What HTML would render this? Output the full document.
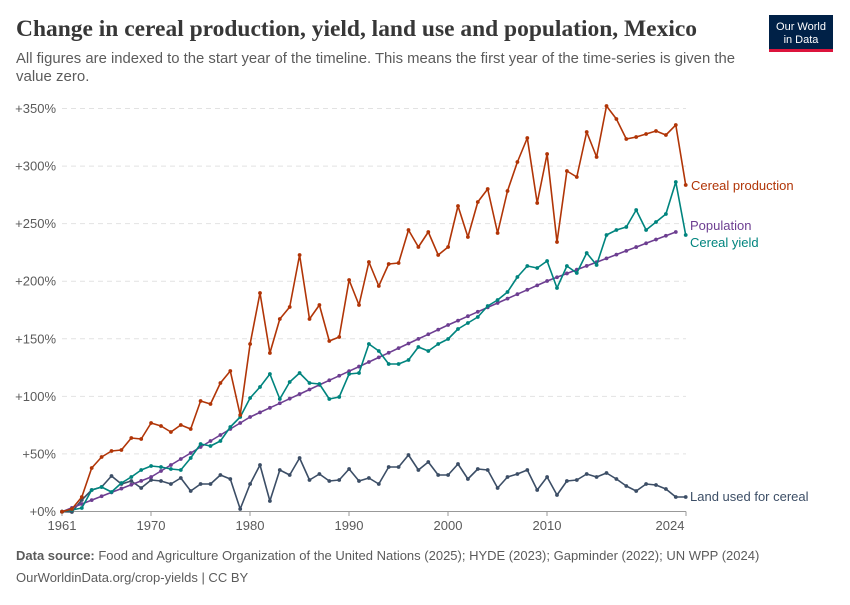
<!DOCTYPE html>
<html><head><meta charset="utf-8"><style>
body{margin:0;background:#fff;width:850px;height:600px;overflow:hidden;font-family:"Liberation Sans",sans-serif}
</style></head><body>
<svg id="s" width="850" height="600" xmlns="http://www.w3.org/2000/svg" font-family="Liberation Sans, sans-serif">
<text x="16" y="36" font-family="Liberation Serif, serif" font-weight="bold" font-size="23" fill="#373737" textLength="681" lengthAdjust="spacingAndGlyphs">Change in cereal production, yield, land use and population, Mexico</text>
<text x="16" y="63" font-size="15" fill="#5b5b5b" textLength="719" lengthAdjust="spacingAndGlyphs">All figures are indexed to the start year of the timeline. This means the first year of the time-series is given the</text>
<text x="16" y="81" font-size="15" fill="#5b5b5b">value zero.</text>
<rect x="769" y="15" width="64" height="36" fill="#002147"/>
<rect x="769" y="49" width="64" height="3" fill="#dc143c"/>
<text x="801" y="30" font-size="11" fill="#fff" text-anchor="middle">Our World</text>
<text x="801" y="43" font-size="11" fill="#fff" text-anchor="middle">in Data</text>
<g id="grid"></g>
<line x1="62" y1="511.5" x2="686" y2="511.5" stroke="#999" stroke-width="1"/>
<g stroke="#999">
<line x1="62" x2="62" y1="511.5" y2="516"/><line x1="151" x2="151" y1="511.5" y2="516"/><line x1="250" x2="250" y1="511.5" y2="516"/><line x1="349" x2="349" y1="511.5" y2="516"/><line x1="448" x2="448" y1="511.5" y2="516"/><line x1="547" x2="547" y1="511.5" y2="516"/><line x1="686" x2="686" y1="511.5" y2="516"/>
</g>
<g font-size="13" fill="#5b5b5b">
<text x="62" y="530" text-anchor="middle">1961</text>
<text x="151" y="530" text-anchor="middle">1970</text>
<text x="250" y="530" text-anchor="middle">1980</text>
<text x="349" y="530" text-anchor="middle">1990</text>
<text x="448" y="530" text-anchor="middle">2000</text>
<text x="547" y="530" text-anchor="middle">2010</text>
<text x="670" y="530" text-anchor="middle">2024</text>
</g>
<g id="series"></g>
<g font-size="13">
<text x="691" y="190" fill="#b13507">Cereal production</text>
<text x="690" y="230" fill="#6d3e91">Population</text>
<text x="690" y="247" fill="#00847e">Cereal yield</text>
<text x="690" y="501" fill="#3c4e66">Land used for cereal</text>
</g>
<text x="16" y="560" font-size="13" fill="#5b5b5b"><tspan font-weight="bold">Data source:</tspan> Food and Agriculture Organization of the United Nations (2025); HYDE (2023); Gapminder (2022); UN WPP (2024)</text>
<text x="16" y="582" font-size="13" fill="#5b5b5b">OurWorldinData.org/crop-yields | CC BY</text>
</svg>
<script>
var NS="http://www.w3.org/2000/svg";
function el(t,a,p){var e=document.createElementNS(NS,t);for(var k in a)e.setAttribute(k,a[k]);p.appendChild(e);return e;}
var g=document.getElementById('grid');
var labs=["+0%","+50%","+100%","+150%","+200%","+250%","+300%","+350%"];
for(var i=0;i<8;i++){var y=511.5-i*57.57;
 if(i>0)el('line',{x1:62,x2:686,y1:y,y2:y,stroke:'#e2e2e2','stroke-dasharray':'5,4'},g);
 var t=el('text',{x:56,y:y+4.5,'font-size':13,fill:'#5b5b5b','text-anchor':'end'},g);t.textContent=labs[i];}
function X(yr){return 62+(yr-1961)*9.9;}
var prod=[511.7,509,497,468,457,451,450,438,439,423,426,432,425,429,401,404,383,371,415,344,293,353,319,307,255,319,305,341,337,280,305,262,286,264,263,230,247,232,255,247,206,237,202,189,233,191,162,138,203,154,242,171,177,132,157,106,119,139,137,134,131,135,125,185];
var yld=[511.7,510,508,490,487,492,483,477,470,466,467,469,470,458,444,446,441,427,417,398,387,374,399,382,373,383,384,399,397,374,373,344,351,364,364,360,347,351,344,339,329,323,317,306,300,292,277,266,268,261,288,266,273,253,265,235,230,227,210,230,222,214,182,235];
var land=[511.7,512,500,490,487,476,484,481,488,480,481,484,478,491,484,484,475,479,509,484,465,501,470,475,458,480,474,481,480,469,481,478,484,467,467,455,470,462,475,475,464,479,469,470,488,477,474,470,490,477,495,481,480,474,477,473,479,486,491,484,485,489,497,497];
var anch=[[1961,511.7],[1970,477],[1980,417],[1992,362],[2000,325],[2010,281],[2023,232]];
var pop=[];for(var yr=1961;yr<=2023;yr++){for(var j=0;j<anch.length-1;j++){if(yr>=anch[j][0]&&yr<=anch[j+1][0]){var f=(yr-anch[j][0])/(anch[j+1][0]-anch[j][0]);pop.push(anch[j][1]+f*(anch[j+1][1]-anch[j][1]));break;}}}
var s=document.getElementById('series');
function draw(d,c){var pts=d.map(function(v,i){return X(1961+i).toFixed(1)+','+v.toFixed(1)}).join(' ');
 el('polyline',{points:pts,fill:'none',stroke:c,'stroke-width':1.6,'stroke-linejoin':'round'},s);
 d.forEach(function(v,i){el('circle',{cx:X(1961+i),cy:v,r:1.9,fill:c},s);});}
draw(land,'#3c4e66');draw(pop,'#6d3e91');draw(yld,'#00847e');draw(prod,'#b13507');
</script>
</body></html>
